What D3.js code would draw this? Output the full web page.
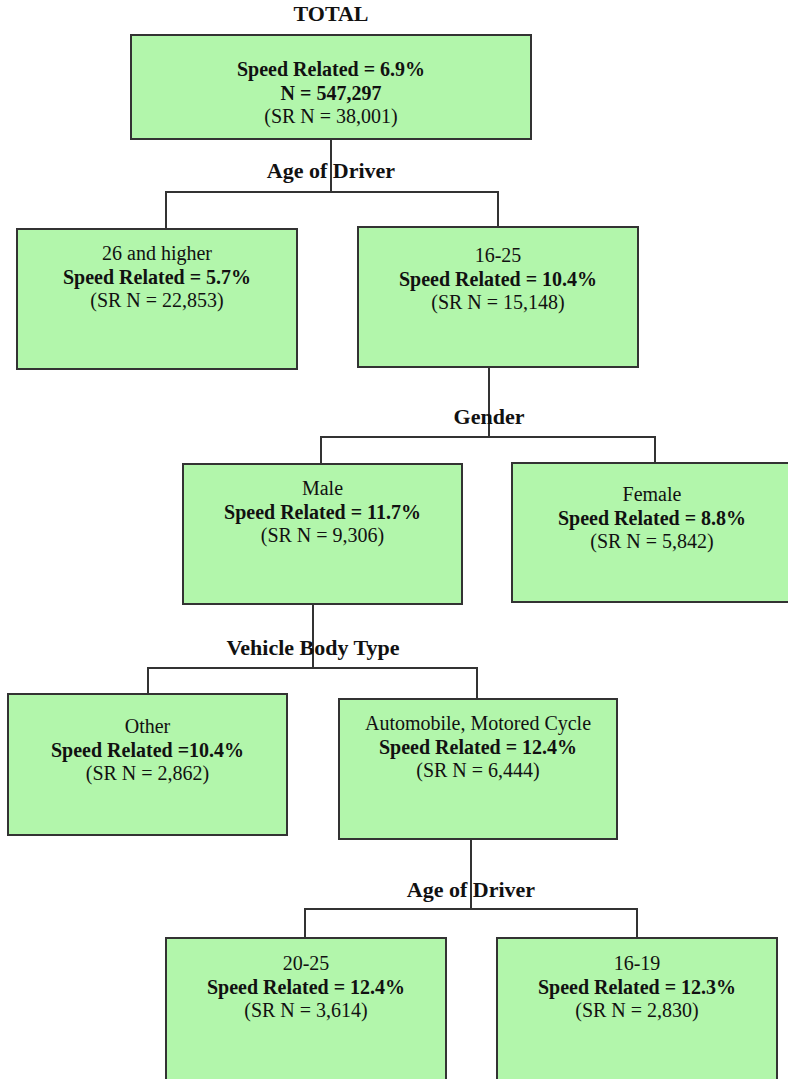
<!DOCTYPE html>
<html>
<head>
<meta charset="utf-8">
<script src="https://cdn.jsdelivr.net/npm/d3@7"></script>
<style>
  body { margin: 0; background: #fff; }
  svg { display: block; font-family: "Liberation Serif", "Times New Roman", serif; }
</style>
</head>
<body>
<svg></svg>
<script>
// tree data
var nodeNames = ["", "26 and higher", "16-25", "Male", "Female", "Other", "Automobile, Motored Cycle", "20-25", "16-19"];
var speedRelated = [6.9, 5.7, 10.4, 11.7, 8.8, 10.4, 12.4, 12.4, 12.3];
var srN = [38001, 22853, 15148, 9306, 5842, 2862, 6444, 3614, 2830];
var parents = [null, 0, 0, 2, 2, 3, 3, 6, 6];
var totalN = 547297;
var splitNames = ["Age of Driver", "Gender", "Vehicle Body Type", "Age of Driver"];
var splitParents = [0, 2, 3, 6];

// layout of the boxes (left, top, width, height, first text line offset)
var boxes = [
  [131, 35, 400, 104, 41],
  [17, 229, 280, 140, 31],
  [358, 227, 280, 140, 35],
  [183, 464, 279, 140, 31],
  [512, 463, 280, 139, 38],
  [8, 694, 279, 141, 39],
  [339, 699, 278, 140, 31],
  [166, 938, 280, 160, 32],
  [497, 938, 280, 160, 32]
];
// split connectors: stem x, bar y, label baseline, child drop x's
var splits = [
  [331, 192, 178, [166, 498]],
  [489, 437, 424, [321, 655]],
  [313, 668, 655, [148, 477]],
  [471, 909, 897, [305, 637]]
];

var svgW = 788, svgH = 1079;
var svg = d3.select("svg").attr("width", svgW).attr("height", svgH);
var fmt = d3.format(",");
var lineH = 23.5;

// connectors first so boxes sit on top
splits.forEach(function(s, k) {
  var p = boxes[splitParents[k]];
  var g = svg.append("g").attr("stroke", "#333").attr("stroke-width", 2).attr("fill", "none");
  g.append("line").attr("x1", s[0]).attr("x2", s[0]).attr("y1", p[1] + p[3]).attr("y2", s[1]);
  g.append("line").attr("x1", s[3][0] - 1).attr("x2", s[3][1] + 1).attr("y1", s[1]).attr("y2", s[1]);
  var kids = parents.map(function(d, i) { return d === splitParents[k] ? i : -1; }).filter(function(i) { return i >= 0; });
  kids.forEach(function(c, j) {
    g.append("line").attr("x1", s[3][j]).attr("x2", s[3][j]).attr("y1", s[1]).attr("y2", boxes[c][1]);
  });
});

// split labels
svg.selectAll(".split")
  .data(splitNames)
  .enter().append("text")
  .attr("class", "split")
  .attr("x", function(d, i) { return splits[i][0]; })
  .attr("y", function(d, i) { return splits[i][2]; })
  .attr("text-anchor", "middle")
  .style("font-size", "22px")
  .style("font-weight", "bold")
  .attr("fill", "#111")
  .text(function(d) { return d; });

svg.append("text")
  .attr("x", boxes[0][0] + boxes[0][2] / 2)
  .attr("y", 21)
  .attr("text-anchor", "middle")
  .style("font-size", "22px")
  .style("font-weight", "bold")
  .attr("fill", "#111")
  .text("TOTAL");

// boxes
var node = svg.selectAll(".node")
  .data(d3.range(nodeNames.length))
  .enter().append("g")
  .attr("class", "node");

node.append("rect")
  .attr("x", function(i) { return boxes[i][0]; })
  .attr("y", function(i) { return boxes[i][1]; })
  .attr("width", function(i) { return boxes[i][2]; })
  .attr("height", function(i) { return boxes[i][3]; })
  .attr("fill", "#b2f6ab")
  .attr("stroke", "#333")
  .attr("stroke-width", 2);

node.each(function(i) {
  var b = boxes[i];
  var cx = b[0] + b[2] / 2;
  var lines = [];
  if (i === 0) {
    lines.push(["Speed Related = " + speedRelated[i] + "%", true]);
    lines.push(["N = " + fmt(totalN), true]);
  } else {
    lines.push([nodeNames[i], false]);
    lines.push(["Speed Related " + (i === 5 ? "=" : "= ") + speedRelated[i] + "%", true]);
  }
  lines.push(["(SR N = " + fmt(srN[i]) + ")", false]);
  var t = d3.select(this);
  lines.forEach(function(l, j) {
    t.append("text")
      .attr("x", cx)
      .attr("y", b[1] + b[4] + j * lineH)
      .attr("text-anchor", "middle")
      .style("font-size", "20px")
      .style("font-weight", l[1] ? "bold" : "normal")
      .attr("fill", "#111")
      .text(l[0]);
  });
});
</script>
</body>
</html>
